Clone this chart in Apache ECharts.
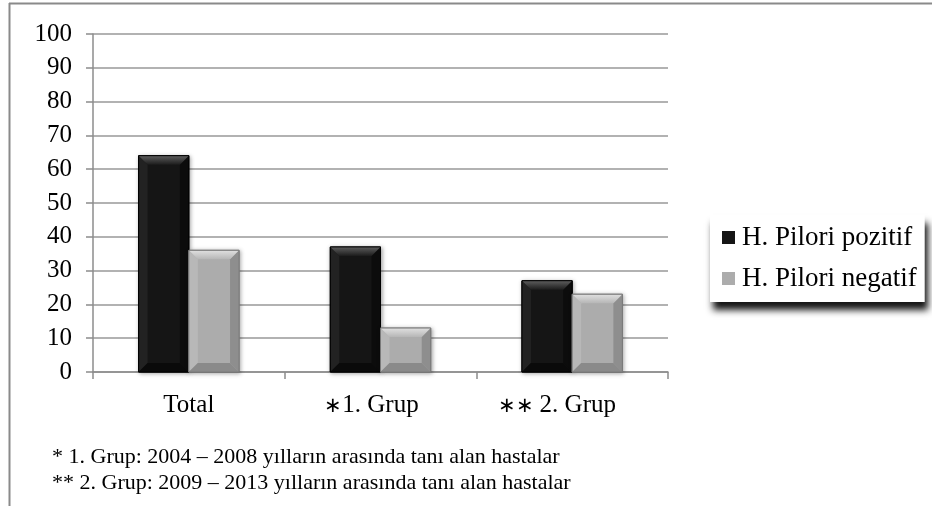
<!DOCTYPE html>
<html>
<head>
<meta charset="utf-8">
<script src="https://cdn.jsdelivr.net/npm/echarts@6/dist/echarts.min.js"></script>
<style>
  html, body { margin: 0; padding: 0; background: #fff; }
  #chart { width: 932px; height: 506px; }
</style>
</head>
<body>
<div id="chart"></div>
<script>
// Categories and values (percent of patients)
const categories = ['Total', '1. Grup', '2. Grup'];
const categoryMarks = ['', '\u2217', '\u2217\u2217 '];
const seriesNames = ['H. Pilori pozitif', 'H. Pilori negatif'];
const pozitif = [64, 37, 27];
const negatif = [36, 13, 23];
const yTicks = { min: 0, max: 100, interval: 10 };
const footnotes = [
  '* 1. Grup: 2004 \u2013 2008 y\u0131llar\u0131n aras\u0131nda tan\u0131 alan hastalar',
  '** 2. Grup: 2009 \u2013 2013 y\u0131llar\u0131n aras\u0131nda tan\u0131 alan hastalar'
];

const FONT = '"Liberation Serif", "Times New Roman", serif';

// Bevelled bar palettes: face, top bevel, left bevel, right bevel, bottom bevel, outline
const palettes = [
  { face: '#151515', top: ['#5e5e5e', '#1c1c1c'], left: '#222222', right: '#0c0c0c', bottom: '#0a0a0a', edge: '#000000' },
  { face: '#acacac', top: ['#e0e0e0', '#b6b6b6'], left: '#b8b8b8', right: '#8e8e8e', bottom: '#8a8a8a', edge: '#7a7a7a' }
];

function bevelBar(seriesIndex) {
  const pal = palettes[seriesIndex];
  return function (params, api) {
    const cat = api.value(0);
    const val = api.value(1);
    const top = api.coord([cat, val]);
    const base = api.coord([cat, 0]);
    const band = api.size([1, 0])[0];
    const w = band * 0.262;
    const x0 = top[0] - w + seriesIndex * w;
    const y0 = top[1];
    const y1 = base[1];
    const h = y1 - y0;
    const d = Math.min(9, h / 2);
    const x1 = x0 + w;
    return {
      type: 'group',
      children: [
        { type: 'rect', shape: { x: x0, y: y0, width: w, height: h },
          style: { fill: pal.face, stroke: pal.edge, lineWidth: 1,
                   shadowBlur: 4, shadowOffsetX: 1, shadowOffsetY: 1, shadowColor: 'rgba(0,0,0,0.35)' } },
        { type: 'polygon', shape: { points: [[x0, y0], [x0 + d, y0 + d], [x0 + d, y1 - d], [x0, y1]] },
          style: { fill: pal.left } },
        { type: 'polygon', shape: { points: [[x1, y0], [x1 - d, y0 + d], [x1 - d, y1 - d], [x1, y1]] },
          style: { fill: pal.right } },
        { type: 'polygon', shape: { points: [[x0, y1], [x0 + d, y1 - d], [x1 - d, y1 - d], [x1, y1]] },
          style: { fill: pal.bottom } },
        { type: 'polygon', shape: { points: [[x0, y0], [x1, y0], [x1 - d, y0 + d], [x0 + d, y0 + d]] },
          style: { fill: { type: 'linear', x: 0, y: 0, x2: 0, y2: 1,
                   colorStops: [{ offset: 0, color: pal.top[0] }, { offset: 1, color: pal.top[1] }] } } },
        { type: 'rect', shape: { x: x0, y: y0, width: w, height: h },
          style: { fill: 'none', stroke: pal.edge, lineWidth: 1 } }
      ]
    };
  };
}

function toData(values) {
  return values.map((v, i) => [i, v]);
}

const chart = echarts.init(document.getElementById('chart'), null, { renderer: 'canvas' });

chart.setOption({
  backgroundColor: '#ffffff',
  animation: false,
  textStyle: { fontFamily: FONT },
  grid: { left: 93, right: 264, top: 34, bottom: 134, containLabel: false },
  xAxis: {
    type: 'category',
    data: categories,
    axisLine: { show: true, lineStyle: { color: '#8c8c8c', width: 1.5 } },
    axisTick: { show: true, interval: 0, length: 7, lineStyle: { color: '#8c8c8c', width: 1.5 } },
    axisLabel: {
      interval: 0,
      hideOverlap: false,
      color: '#000', fontSize: 25, fontFamily: FONT, margin: 21,
      formatter: function (value, index) {
        const mark = categoryMarks[index];
        if (!mark) return value;
        return '{m|' + mark + '}{t|' + value + '}' + (index === 2 ? '{q|}' : '{p|}');
      },
      rich: {
        m: { fontSize: 21, fontFamily: FONT, color: '#000', padding: [2, 0, 0, 0] },
        t: { fontSize: 25, fontFamily: FONT, color: '#000' },
        p: { width: 18 },
        q: { width: 30 }
      }
    },
    splitLine: { show: false }
  },
  yAxis: {
    type: 'value',
    min: yTicks.min,
    max: yTicks.max,
    interval: yTicks.interval,
    axisLine: { show: true, lineStyle: { color: '#8c8c8c', width: 1.5 } },
    axisTick: { show: true, length: 7, lineStyle: { color: '#8c8c8c', width: 1.5 } },
    axisLabel: { color: '#000', fontSize: 25, fontFamily: FONT, margin: 21 },
    splitLine: { show: true, lineStyle: { color: '#989898', width: 1.5 } }
  },
  legend: {
    orient: 'vertical',
    left: 710,
    top: 215,
    padding: [9, 8, 10, 12],
    itemGap: 14,
    itemWidth: 13,
    itemHeight: 13,
    icon: 'rect',
    backgroundColor: '#ffffff',
    shadowColor: 'rgba(0,0,0,0.92)',
    shadowBlur: 7,
    shadowOffsetX: 3,
    shadowOffsetY: 8,
    textStyle: { color: '#000', fontSize: 27, fontFamily: FONT, lineHeight: 22, padding: [0, 0, 0, 2] },
    data: seriesNames
  },
  graphic: [
    { type: 'line', shape: { x1: 9, y1: 3.5, x2: 932, y2: 3.5 }, style: { stroke: '#8a8a8a', lineWidth: 2 }, silent: true },
    { type: 'line', shape: { x1: 9.5, y1: 3, x2: 9.5, y2: 506 }, style: { stroke: '#8a8a8a', lineWidth: 2 }, silent: true },
    { type: 'text', left: 52, top: 446, style: { text: footnotes[0], font: '22px ' + FONT, fill: '#000' }, silent: true },
    { type: 'text', left: 52, top: 472, style: { text: footnotes[1], font: '22px ' + FONT, fill: '#000' }, silent: true }
  ],
  series: [
    { name: seriesNames[0], type: 'custom', renderItem: bevelBar(0), data: toData(pozitif),
      encode: { x: 0, y: 1 }, itemStyle: { color: '#151515' } },
    { name: seriesNames[1], type: 'custom', renderItem: bevelBar(1), data: toData(negatif),
      encode: { x: 0, y: 1 }, itemStyle: { color: '#acacac' } }
  ]
});
</script>
</body>
</html>
